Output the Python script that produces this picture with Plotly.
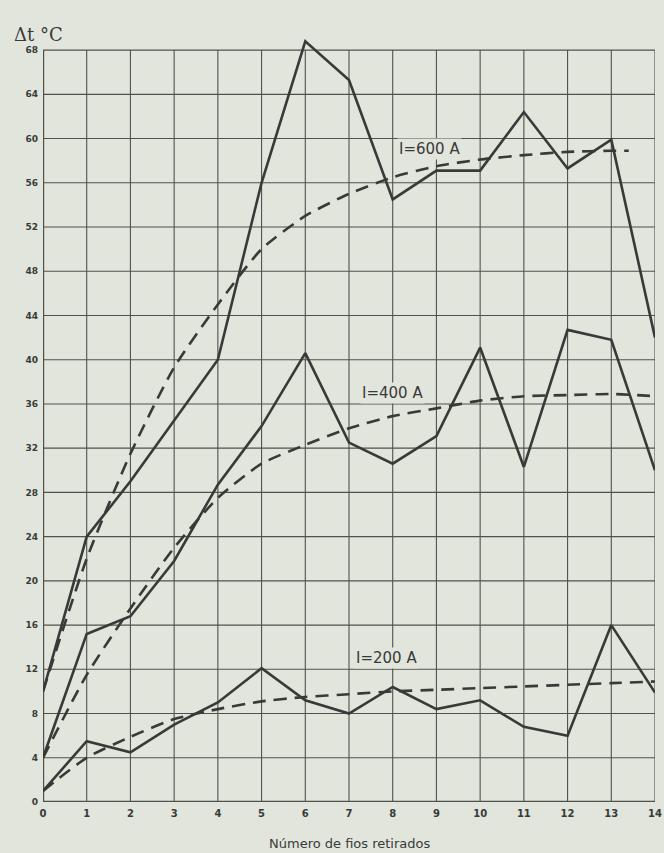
import plotly.graph_objects as go

# ---------------- data ----------------
x_points = list(range(15))
x_ticks = list(range(15))
y_ticks = list(range(0, 69, 4))

y_600_measured = [10, 24, 29, 34.5, 40, 56, 68.8, 65.3, 54.5, 57.1, 57.1, 62.4, 57.3, 59.9, 42]
x_600_fit = [0, 1, 2, 3, 4, 5, 6, 7, 8, 9, 10, 11, 12, 13, 13.4]
y_600_fit = [10, 22, 31.5, 39.3, 45, 50, 53, 55, 56.5, 57.5, 58.1, 58.5, 58.8, 58.9, 58.9]

y_400_measured = [4, 15.2, 16.8, 21.8, 28.7, 34, 40.6, 32.5, 30.6, 33.1, 41.1, 30.3, 42.7, 41.8, 30]
y_400_fit = [4, 11.5, 17.5, 23, 27.5, 30.6, 32.3, 33.8, 34.9, 35.6, 36.3, 36.7, 36.8, 36.9, 36.7]

y_200_measured = [1, 5.5, 4.5, 7, 9, 12.1, 9.2, 8, 10.4, 8.4, 9.2, 6.8, 6, 16, 9.9]
y_200_fit = [1, 4, 5.9, 7.5, 8.4, 9.1, 9.5, 9.75, 10, 10.15, 10.3, 10.45, 10.6, 10.75, 10.9]

series_labels = ["I=600 A", "I=400 A", "I=200 A"]
label_x = [8.85, 8.0, 7.85]
label_y = [59.1, 37.0, 13.0]

x_title = "Número de fios retirados"
y_title = "Δt °C"

# ---------------- style ----------------
BG = "#e1e5dc"
INK = "#383a38"
GRID = "#4e524d"
DASH = "13px,8px"

fig = go.Figure()

def add(x, y, dashed, shape="linear"):
    fig.add_trace(go.Scatter(
        x=x, y=y, mode="lines", showlegend=False, hoverinfo="skip",
        line=dict(color=INK, width=2.6, dash=DASH if dashed else "solid", shape=shape,
                  smoothing=0.6 if shape == "spline" else None),
    ))

# grid drawn from tick lists (only up to the top tick)
shapes = []
for xv in x_ticks:
    shapes.append(dict(type="line", xref="x", yref="y", x0=xv, x1=xv, y0=y_ticks[0], y1=y_ticks[-1],
                       line=dict(color=GRID, width=2.4 if xv == x_ticks[0] else 1.1), layer="below"))
for yv in y_ticks:
    shapes.append(dict(type="line", xref="x", yref="y", x0=x_ticks[0], x1=x_ticks[-1], y0=yv, y1=yv,
                       line=dict(color=GRID, width=2.4 if yv == y_ticks[0] else 1.1), layer="below"))

add(x_points, y_600_measured, False)
add(x_600_fit, y_600_fit, True, "spline")
add(x_points, y_400_measured, False)
add(x_points, y_400_fit, True, "spline")
add(x_points, y_200_measured, False)
add(x_points, y_200_fit, True, "spline")

annotations = []
for t, lx, ly in zip(series_labels, label_x, label_y):
    annotations.append(dict(x=lx, y=ly, xref="x", yref="y", text=t, showarrow=False,
                            font=dict(family="DejaVu Sans", size=15, color=INK),
                            bgcolor=BG, borderpad=1))
annotations.append(dict(x=0.5, y=0, xref="paper", yref="paper", text=x_title, showarrow=False,
                        yanchor="middle", yshift=-41,
                        font=dict(family="DejaVu Sans", size=13, color=INK)))
annotations.append(dict(x=0, y=1, xref="paper", yref="paper", text=y_title, showarrow=False,
                        xanchor="center", yanchor="middle", xshift=-5, yshift=-6,
                        font=dict(family="DejaVu Serif", size=18, color=INK)))

fig.update_layout(
    width=664, height=853,
    margin=dict(l=43, r=9, t=28, b=51, autoexpand=False),
    paper_bgcolor=BG, plot_bgcolor=BG,
    shapes=shapes, annotations=annotations,
    xaxis=dict(range=[0, 14], tickvals=x_ticks, ticktext=[str(v) for v in x_ticks],
               showgrid=False, zeroline=False, showline=False, ticks="",
               ticklabelstandoff=4, ticklabeloverflow="allow", automargin=False,
               tickfont=dict(family="DejaVu Sans", size=10, color=INK, weight="bold")),
    yaxis=dict(range=[0, 70], tickvals=y_ticks, ticktext=[str(v) for v in y_ticks],
               showgrid=False, zeroline=False, showline=False, ticks="",
               ticklabelstandoff=4, ticklabeloverflow="allow", automargin=False,
               tickfont=dict(family="DejaVu Sans", size=9, color=INK, weight="bold")),
)

fig.write_html(
    "out.html",
    config={"displayModeBar": False},
    post_script="document.body.style.margin='0';document.body.style.padding='0';"
                "document.body.style.background='" + BG + "';"
                "document.documentElement.style.overflow='hidden';",
)
